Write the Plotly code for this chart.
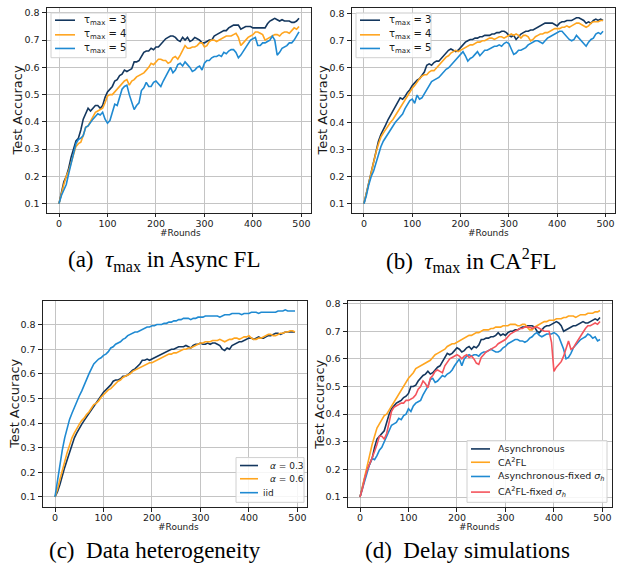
import plotly.graph_objects as go

rounds = list(range(0, 500, 5))

# (a) tau_max in Async FL
a_tau3 = [0.10,0.14,0.18,0.20,0.23,0.27,0.30,0.33,0.34,0.37,0.41,0.43,0.45,0.44,0.45,0.46,0.46,0.45,0.46,0.49,
          0.51,0.52,0.53,0.55,0.555,0.57,0.575,0.59,0.585,0.59,0.595,0.62,0.62,0.625,0.64,0.655,0.66,0.66,0.67,0.665,
          0.675,0.675,0.685,0.695,0.705,0.71,0.715,0.715,0.71,0.70,0.695,0.71,0.70,0.71,0.695,0.70,0.71,0.705,0.70,0.69,
          0.69,0.695,0.70,0.70,0.715,0.72,0.725,0.73,0.735,0.735,0.745,0.75,0.755,0.755,0.755,0.74,0.745,0.75,0.75,0.75,
          0.745,0.745,0.745,0.745,0.745,0.745,0.76,0.77,0.775,0.78,0.775,0.77,0.775,0.77,0.77,0.77,0.765,0.765,0.77,0.78]
a_tau4 = [0.10,0.14,0.17,0.20,0.22,0.25,0.28,0.31,0.32,0.325,0.35,0.38,0.385,0.40,0.42,0.435,0.44,0.445,0.45,0.47,
          0.495,0.50,0.50,0.51,0.52,0.53,0.54,0.55,0.555,0.535,0.55,0.555,0.565,0.57,0.575,0.58,0.59,0.60,0.615,0.61,
          0.62,0.63,0.63,0.625,0.625,0.615,0.62,0.635,0.64,0.63,0.645,0.665,0.68,0.67,0.67,0.675,0.675,0.68,0.69,0.69,
          0.675,0.68,0.695,0.70,0.70,0.695,0.70,0.705,0.71,0.715,0.715,0.715,0.72,0.725,0.71,0.68,0.69,0.70,0.71,0.715,
          0.72,0.73,0.73,0.725,0.72,0.70,0.705,0.71,0.715,0.72,0.72,0.715,0.725,0.73,0.73,0.725,0.735,0.745,0.74,0.75]
a_tau5 = [0.10,0.13,0.15,0.17,0.21,0.25,0.29,0.32,0.335,0.34,0.35,0.38,0.385,0.40,0.41,0.42,0.43,0.425,0.435,0.41,
          0.395,0.405,0.44,0.465,0.46,0.49,0.52,0.53,0.535,0.50,0.47,0.445,0.46,0.47,0.515,0.525,0.545,0.53,0.53,0.545,
          0.55,0.54,0.53,0.55,0.565,0.58,0.60,0.58,0.59,0.61,0.615,0.605,0.62,0.61,0.60,0.585,0.59,0.60,0.605,0.59,
          0.615,0.625,0.625,0.635,0.64,0.64,0.645,0.64,0.655,0.65,0.66,0.665,0.665,0.655,0.635,0.645,0.66,0.67,0.685,0.70,
          0.705,0.71,0.68,0.68,0.69,0.69,0.695,0.70,0.715,0.70,0.645,0.655,0.67,0.675,0.68,0.69,0.69,0.70,0.715,0.73]

# (b) tau_max in CA2FL
b_tau3 = [0.10,0.14,0.18,0.22,0.26,0.30,0.33,0.355,0.37,0.39,0.41,0.425,0.44,0.455,0.47,0.49,0.485,0.495,0.51,0.52,
          0.535,0.545,0.555,0.56,0.575,0.585,0.61,0.615,0.61,0.62,0.625,0.625,0.635,0.645,0.655,0.665,0.67,0.665,0.66,0.665,
          0.675,0.685,0.695,0.70,0.705,0.705,0.71,0.71,0.715,0.715,0.72,0.72,0.72,0.725,0.725,0.73,0.73,0.735,0.735,0.73,
          0.72,0.715,0.72,0.705,0.715,0.725,0.73,0.735,0.735,0.74,0.74,0.745,0.75,0.755,0.76,0.765,0.765,0.765,0.765,0.76,
          0.755,0.765,0.77,0.77,0.775,0.775,0.775,0.78,0.785,0.785,0.78,0.775,0.765,0.77,0.765,0.775,0.78,0.775,0.78,0.775]
b_tau4 = [0.10,0.14,0.18,0.22,0.25,0.29,0.32,0.345,0.36,0.375,0.39,0.40,0.41,0.425,0.44,0.45,0.47,0.485,0.50,0.515,
          0.525,0.535,0.55,0.56,0.57,0.575,0.575,0.585,0.59,0.59,0.60,0.61,0.62,0.63,0.64,0.645,0.655,0.66,0.665,0.66,
          0.665,0.67,0.675,0.68,0.685,0.685,0.69,0.695,0.695,0.70,0.70,0.705,0.71,0.71,0.705,0.71,0.715,0.715,0.71,0.715,
          0.72,0.725,0.72,0.725,0.72,0.71,0.72,0.72,0.715,0.70,0.705,0.715,0.72,0.725,0.725,0.73,0.73,0.735,0.74,0.745,
          0.745,0.745,0.75,0.75,0.755,0.75,0.755,0.76,0.765,0.765,0.76,0.755,0.75,0.755,0.765,0.77,0.77,0.77,0.775,0.775]
b_tau5 = [0.10,0.13,0.17,0.20,0.22,0.25,0.28,0.31,0.33,0.345,0.36,0.37,0.385,0.40,0.41,0.42,0.43,0.45,0.465,0.48,
          0.485,0.47,0.50,0.485,0.49,0.505,0.52,0.54,0.55,0.555,0.56,0.565,0.575,0.585,0.595,0.60,0.61,0.62,0.63,0.64,
          0.65,0.66,0.645,0.625,0.635,0.64,0.65,0.66,0.645,0.655,0.665,0.665,0.67,0.675,0.68,0.68,0.685,0.68,0.69,0.695,
          0.69,0.67,0.65,0.655,0.665,0.665,0.67,0.675,0.685,0.69,0.695,0.70,0.70,0.695,0.69,0.70,0.71,0.715,0.72,0.725,
          0.73,0.735,0.735,0.725,0.715,0.705,0.70,0.705,0.72,0.71,0.70,0.69,0.68,0.695,0.705,0.71,0.725,0.73,0.725,0.735]

# (c) data heterogeneity
c_a03 = [0.10,0.12,0.15,0.19,0.22,0.25,0.28,0.31,0.34,0.36,0.38,0.395,0.41,0.425,0.44,0.45,0.47,0.48,0.495,0.51,
         0.525,0.535,0.545,0.555,0.57,0.575,0.575,0.58,0.59,0.59,0.595,0.605,0.615,0.62,0.63,0.64,0.655,0.655,0.66,0.655,
         0.66,0.665,0.67,0.675,0.68,0.685,0.69,0.695,0.70,0.70,0.705,0.71,0.71,0.71,0.715,0.71,0.705,0.715,0.72,0.72,
         0.725,0.72,0.72,0.725,0.72,0.725,0.725,0.72,0.715,0.70,0.695,0.705,0.70,0.715,0.72,0.725,0.73,0.73,0.735,0.74,
         0.745,0.745,0.74,0.745,0.75,0.745,0.745,0.75,0.755,0.755,0.76,0.765,0.765,0.76,0.765,0.77,0.77,0.77,0.77,0.77]
c_a06 = [0.10,0.13,0.17,0.21,0.25,0.28,0.31,0.34,0.36,0.38,0.395,0.41,0.42,0.435,0.445,0.46,0.475,0.48,0.49,0.505,
         0.515,0.525,0.535,0.54,0.55,0.56,0.57,0.575,0.585,0.59,0.595,0.60,0.61,0.615,0.62,0.625,0.63,0.635,0.64,0.645,
         0.645,0.65,0.655,0.66,0.665,0.67,0.675,0.68,0.68,0.685,0.685,0.69,0.695,0.70,0.70,0.705,0.705,0.71,0.715,0.72,
         0.725,0.725,0.73,0.73,0.73,0.735,0.735,0.735,0.74,0.735,0.73,0.735,0.74,0.74,0.745,0.745,0.74,0.745,0.75,0.75,
         0.755,0.745,0.74,0.74,0.745,0.745,0.75,0.755,0.76,0.76,0.755,0.755,0.76,0.765,0.765,0.77,0.77,0.775,0.775,0.77]
c_iid = [0.10,0.17,0.23,0.29,0.34,0.38,0.415,0.44,0.465,0.49,0.51,0.53,0.555,0.58,0.60,0.62,0.64,0.65,0.66,0.665,
         0.675,0.68,0.69,0.705,0.71,0.72,0.725,0.73,0.74,0.745,0.755,0.76,0.765,0.77,0.77,0.775,0.78,0.785,0.79,0.79,
         0.795,0.795,0.80,0.80,0.80,0.805,0.805,0.81,0.81,0.815,0.815,0.82,0.82,0.825,0.825,0.825,0.82,0.825,0.825,0.83,
         0.83,0.83,0.835,0.835,0.835,0.835,0.835,0.835,0.83,0.835,0.84,0.84,0.84,0.845,0.845,0.845,0.845,0.84,0.845,0.845,
         0.845,0.85,0.85,0.85,0.845,0.85,0.85,0.85,0.85,0.85,0.85,0.85,0.855,0.855,0.855,0.86,0.855,0.855,0.855,0.855]

# (d) delay simulations
d_async = [0.10,0.14,0.17,0.20,0.22,0.24,0.28,0.31,0.32,0.33,0.34,0.37,0.40,0.42,0.43,0.44,0.445,0.45,0.46,0.465,
           0.475,0.50,0.50,0.505,0.52,0.53,0.54,0.545,0.555,0.545,0.55,0.56,0.57,0.575,0.59,0.61,0.62,0.615,0.62,0.63,
           0.64,0.635,0.625,0.63,0.64,0.645,0.635,0.645,0.64,0.65,0.67,0.67,0.675,0.675,0.68,0.68,0.685,0.695,0.685,0.69,
           0.685,0.695,0.70,0.70,0.705,0.705,0.71,0.715,0.715,0.72,0.72,0.72,0.715,0.70,0.695,0.705,0.715,0.72,0.72,0.725,
           0.73,0.735,0.73,0.72,0.70,0.705,0.71,0.715,0.72,0.72,0.725,0.73,0.735,0.73,0.73,0.735,0.74,0.745,0.74,0.75]
d_ca2fl = [0.10,0.14,0.18,0.22,0.25,0.29,0.32,0.35,0.365,0.38,0.395,0.40,0.415,0.43,0.445,0.46,0.47,0.49,0.505,0.52,
           0.53,0.54,0.55,0.565,0.57,0.575,0.58,0.585,0.59,0.595,0.605,0.615,0.62,0.625,0.63,0.635,0.645,0.65,0.655,0.655,
           0.66,0.665,0.67,0.675,0.68,0.685,0.685,0.69,0.695,0.695,0.70,0.705,0.705,0.705,0.71,0.71,0.715,0.715,0.715,0.72,
           0.72,0.72,0.725,0.725,0.725,0.72,0.72,0.725,0.725,0.715,0.705,0.705,0.715,0.72,0.725,0.73,0.735,0.735,0.74,0.74,
           0.74,0.745,0.745,0.745,0.75,0.75,0.755,0.755,0.755,0.75,0.755,0.76,0.76,0.76,0.765,0.765,0.765,0.77,0.77,0.775]
d_async_fixed = [0.10,0.13,0.16,0.19,0.22,0.24,0.235,0.25,0.27,0.28,0.30,0.32,0.345,0.36,0.365,0.37,0.385,0.38,0.395,0.40,
                 0.42,0.41,0.43,0.44,0.445,0.45,0.47,0.485,0.50,0.525,0.53,0.515,0.52,0.53,0.54,0.535,0.545,0.55,0.56,0.575,
                 0.59,0.60,0.575,0.60,0.61,0.615,0.61,0.615,0.615,0.61,0.62,0.625,0.625,0.63,0.635,0.63,0.625,0.625,0.63,0.64,
                 0.645,0.655,0.66,0.665,0.67,0.67,0.665,0.665,0.66,0.665,0.675,0.68,0.69,0.695,0.685,0.68,0.685,0.69,0.69,0.69,
                 0.695,0.69,0.68,0.66,0.635,0.60,0.605,0.62,0.64,0.65,0.66,0.67,0.675,0.68,0.69,0.685,0.675,0.68,0.665,0.67]
d_ca2fl_fixed = [0.10,0.13,0.17,0.20,0.22,0.24,0.265,0.29,0.32,0.32,0.31,0.33,0.37,0.41,0.425,0.43,0.435,0.44,0.44,0.45,
                 0.45,0.455,0.46,0.47,0.49,0.50,0.52,0.51,0.495,0.53,0.54,0.555,0.56,0.555,0.55,0.575,0.59,0.60,0.605,0.61,
                 0.615,0.61,0.60,0.61,0.615,0.605,0.61,0.60,0.585,0.58,0.605,0.615,0.625,0.63,0.635,0.64,0.645,0.655,0.66,0.665,
                 0.67,0.68,0.69,0.695,0.70,0.705,0.71,0.71,0.715,0.715,0.715,0.71,0.715,0.715,0.71,0.705,0.70,0.70,0.70,0.66,
                 0.555,0.57,0.58,0.59,0.61,0.64,0.665,0.635,0.64,0.655,0.67,0.68,0.695,0.71,0.72,0.72,0.725,0.73,0.725,0.735]

NAVY = "#14375e"
ORANGE = "#ffa51f"
BLUE = "#1f8ad2"
RED = "#f4545c"

W, H = 621, 565
def px(x): return x / W
def py(y): return 1 - y / H

FONT = "DejaVu Sans"
TXT = "#1a1a1a"

panels = [
    dict(frame=(47, 311, 5, 211), yr=(0.066, 0.818),
         series=[(a_tau3, NAVY), (a_tau4, ORANGE), (a_tau5, BLUE)]),
    dict(frame=(352, 615, 5, 211), yr=(0.066, 0.821),
         series=[(b_tau3, NAVY), (b_tau4, ORANGE), (b_tau5, BLUE)]),
    dict(frame=(43, 307, 300, 507), yr=(0.058, 0.894),
         series=[(c_a03, NAVY), (c_a06, ORANGE), (c_iid, BLUE)]),
    dict(frame=(348, 612, 300, 507), yr=(0.063, 0.808),
         series=[(d_async, NAVY), (d_ca2fl, ORANGE), (d_async_fixed, BLUE), (d_ca2fl_fixed, RED)]),
]

fig = go.Figure()
layout = dict(width=W, height=H, margin=dict(l=0, r=0, t=0, b=0),
              paper_bgcolor="white", plot_bgcolor="white", showlegend=False)

for i, p in enumerate(panels):
    k = "" if i == 0 else str(i + 1)
    x0, x1, y0, y1 = p["frame"]
    for vals, col in p["series"]:
        fig.add_trace(go.Scatter(x=rounds, y=vals, mode="lines",
                                 line=dict(color=col, width=1.6),
                                 xaxis="x" + k, yaxis="y" + k, hoverinfo="skip"))
    common = dict(showline=True, mirror=True, linecolor="#222222", linewidth=1.2,
                  showgrid=True, gridcolor="#c4c4c4", gridwidth=1.2, zeroline=False,
                  ticks="outside", ticklen=3.5, tickwidth=1, tickcolor="#222222",
                  tickfont=dict(family=FONT, size=9.5, color=TXT))
    layout["xaxis" + k] = dict(domain=[px(x0), px(x1)], range=[-24.75, 519.75],
                               tickvals=[0, 100, 200, 300, 400, 500], anchor="y" + k,
                               ticklabelstandoff=-2, **common)
    layout["yaxis" + k] = dict(domain=[py(y1), py(y0)], range=list(p["yr"]),
                               tickvals=[0.1, 0.2, 0.3, 0.4, 0.5, 0.6, 0.7, 0.8], tickformat=".1f",
                               anchor="x" + k, ticklabelstandoff=1, **common)

fig.update_layout(**layout)

ann = []
# y-axis titles
for xc, yc in [(17, 108), (322, 108), (14.5, 403.5), (319.5, 403.5)]:
    ann.append(dict(x=px(xc), y=py(yc), xref="paper", yref="paper", text="Test Accuracy",
                    textangle=-90, showarrow=False, font=dict(family=FONT, size=13, color=TXT),
                    xanchor="center", yanchor="middle"))
# x-axis titles
for xc, yc in [(180, 231), (488, 231), (178, 527), (479, 527)]:
    ann.append(dict(x=px(xc), y=py(yc), xref="paper", yref="paper", text="#Rounds",
                    showarrow=False, font=dict(family=FONT, size=9, color=TXT),
                    xanchor="center", yanchor="middle"))
# captions
SERIF = "Liberation Serif"
caps = [(164, 259, "(a)  <i>τ</i><sub>max</sub> in Async FL"),
        (471, 259, "(b)  <i>τ</i><sub>max</sub> in CA<sup>2</sup>FL"),
        (155, 550, "(c)  Data heterogeneity"),
        (467, 550, "(d)  Delay simulations")]
for xc, yc, t in caps:
    ann.append(dict(x=px(xc), y=py(yc), xref="paper", yref="paper", text=t,
                    showarrow=False, font=dict(family=SERIF, size=23, color="black"),
                    xanchor="center", yanchor="middle"))

shapes = []
def legend(box, rows, hx0, hx1, txs, labels, colors, fsize=9.5):
    bx0, bx1, by0, by1 = box
    shapes.append(dict(type="rect", xref="paper", yref="paper",
                       x0=px(bx0), x1=px(bx1), y0=py(by1), y1=py(by0),
                       fillcolor="rgba(255,255,255,0.85)", line=dict(color="#d0d0d0", width=1),
                       layer="above"))
    for r, tx, lab, col in zip(rows, txs, labels, colors):
        shapes.append(dict(type="line", xref="paper", yref="paper",
                           x0=px(hx0), x1=px(hx1), y0=py(r), y1=py(r),
                           line=dict(color=col, width=1.6), layer="above"))
        ann.append(dict(x=px(tx), y=py(r), xref="paper", yref="paper", text=lab,
                        showarrow=False, font=dict(family=FONT, size=fsize, color=TXT),
                        xanchor="left", yanchor="middle"))

tau_labels = ["τ<sub>max</sub> = 3", "τ<sub>max</sub> = 4", "τ<sub>max</sub> = 5"]
legend((51, 126, 10, 55), [17.3, 32, 45.7], 55, 75, [82, 82, 82], tau_labels, [NAVY, ORANGE, BLUE], 10)
legend((356, 431, 10, 55), [17.3, 32, 45.7], 360, 380, [387, 387, 387], tau_labels, [NAVY, ORANGE, BLUE], 10)
legend((236, 304, 457, 502), [465, 478.3, 492.3], 240, 258, [268, 268, 261],
       ["<i>α</i> = 0.3", "<i>α</i> = 0.6", "iid"], [NAVY, ORANGE, BLUE], 9)
legend((467, 607, 440, 502), [448.3, 461.7, 476, 491.7], 471, 490, [496, 496, 496, 496],
       ["Asynchronous", "CA<sup>2</sup>FL", "Asynchronous-fixed <i>σ<sub>h</sub></i>",
        "CA<sup>2</sup>FL-fixed <i>σ<sub>h</sub></i>"], [NAVY, ORANGE, BLUE, RED])

fig.update_layout(annotations=ann, shapes=shapes)
fig.write_html("out.html")
